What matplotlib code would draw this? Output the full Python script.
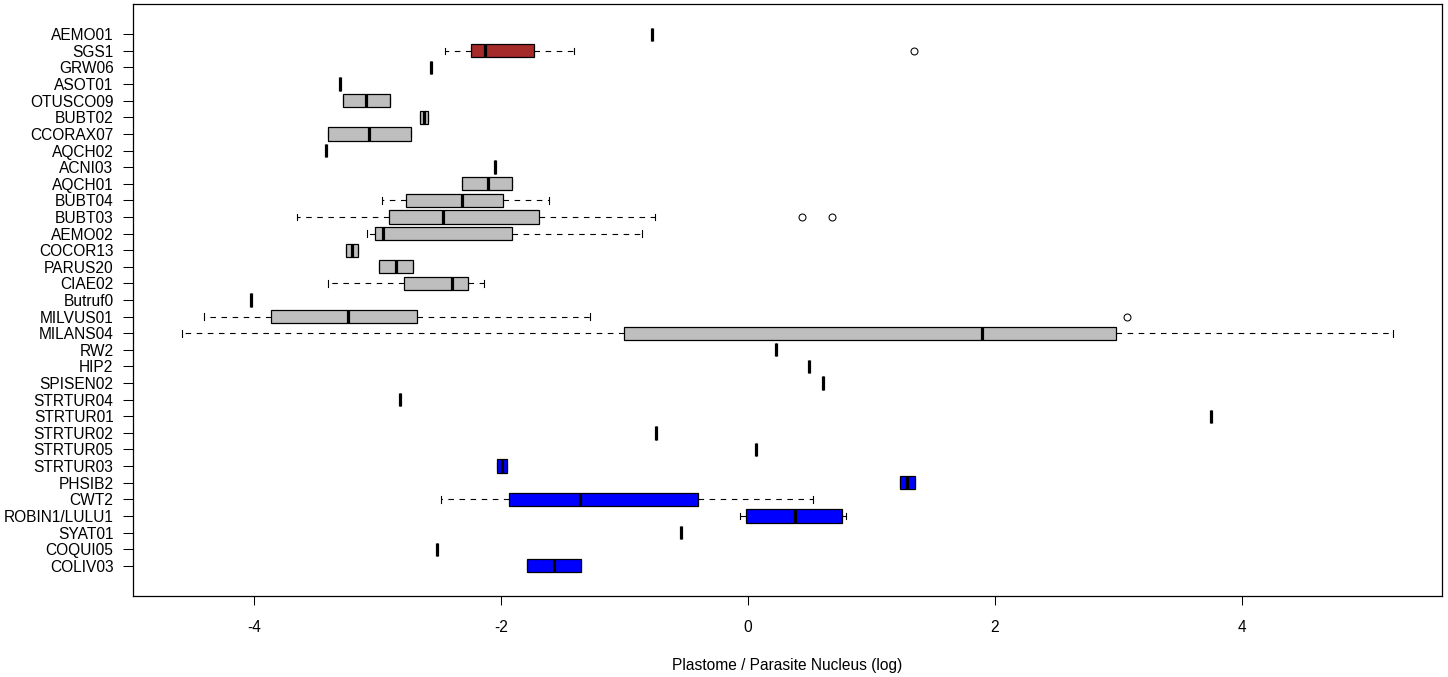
import numpy as np
import matplotlib
matplotlib.use("Agg")
import matplotlib.pyplot as plt

# samples, bottom to top (position 1 = bottom)
names = ['COLIV03', 'COQUI05', 'SYAT01', 'ROBIN1/LULU1', 'CWT2', 'PHSIB2', 'STRTUR03',
         'STRTUR05', 'STRTUR02', 'STRTUR01', 'STRTUR04', 'SPISEN02', 'HIP2', 'RW2',
         'MILANS04', 'MILVUS01', 'Butruf0', 'CIAE02', 'PARUS20', 'COCOR13', 'AEMO02',
         'BUBT03', 'BUBT04', 'AQCH01', 'ACNI03', 'AQCH02', 'CCORAX07', 'BUBT02',
         'OTUSCO09', 'ASOT01', 'GRW06', 'SGS1', 'AEMO01']

# summary stats
whislo = [-1.787, -2.516, -0.540, -0.068, -2.483, 1.232, -2.030,
          0.068, -0.742, 3.752, -2.815, 0.610, 0.497, 0.229,
          -4.586, -4.408, -4.022, -3.403, -2.985, -3.252, -3.086,
          -3.648, -2.966, -2.319, -2.052, -3.421, -3.403, -2.652,
          -3.277, -3.302, -2.568, -2.456, -0.775]
q1 = [-1.787, -2.516, -0.540, -0.014, -1.933, 1.232, -2.030,
      0.068, -0.742, 3.752, -2.815, 0.610, 0.497, 0.229,
      -1.007, -3.859, -4.022, -2.782, -2.985, -3.252, -3.024,
      -2.904, -2.767, -2.319, -2.052, -3.421, -3.403, -2.652,
      -3.277, -3.302, -2.568, -2.239, -0.775]
med = [-1.571, -2.516, -0.540, 0.383, -1.358, 1.291, -1.989,
       0.068, -0.742, 3.752, -2.815, 0.610, 0.497, 0.229,
       1.894, -3.237, -4.022, -2.398, -2.850, -3.205, -2.955,
       -2.471, -2.319, -2.109, -2.052, -3.421, -3.067, -2.623,
       -3.092, -3.302, -2.568, -2.127, -0.775]
q3 = [-1.355, -2.516, -0.540, 0.764, -0.408, 1.352, -1.949,
      0.068, -0.742, 3.752, -2.815, 0.610, 0.497, 0.229,
      2.977, -2.684, -4.022, -2.265, -2.716, -3.154, -1.907,
      -1.690, -1.980, -1.907, -2.052, -3.421, -2.731, -2.593,
      -2.901, -3.302, -2.568, -1.730, -0.775]
whishi = [-1.355, -2.516, -0.540, 0.796, 0.529, 1.352, -1.949,
          0.068, -0.742, 3.752, -2.815, 0.610, 0.497, 0.229,
          5.225, -1.278, -4.022, -2.134, -2.716, -3.154, -0.862,
          -0.751, -1.615, -1.907, -2.052, -3.421, -2.731, -2.593,
          -2.901, -3.302, -2.568, -1.412, -0.775]
fliers = {'MILVUS01': [3.066], 'BUBT03': [0.438, 0.677], 'SGS1': [1.344]}

gray, brown, blue = '#BEBEBE', '#A52A2A', '#0000FF'
box_colors = [blue, blue, blue, blue, blue, blue, blue] + [gray] * 24 + [brown, gray]

plt.rcParams['font.family'] = ['Liberation Sans', 'DejaVu Sans']

stats = []
for i, n in enumerate(names):
    stats.append(dict(label=n, whislo=whislo[i], q1=q1[i], med=med[i], q3=q3[i],
                      whishi=whishi[i], fliers=fliers.get(n, [])))

fig = plt.figure(figsize=(14.48, 6.77), dpi=100)
ax = fig.add_axes([133 / 1448, 81 / 677, (1442 - 133) / 1448, 592 / 677])

pos = np.arange(1, len(names) + 1)
bp = ax.bxp(stats, positions=pos, widths=0.8, orientation='horizontal',
            patch_artist=True, manage_ticks=False,
            boxprops=dict(edgecolor='black', linewidth=0.9),
            medianprops=dict(color='black', linewidth=2.3, solid_capstyle='butt'),
            whiskerprops=dict(color='black', linewidth=0.8, linestyle=(0, (5, 5))),
            capprops=dict(color='black', linewidth=0.8),
            flierprops=dict(marker='o', markerfacecolor='none', markeredgecolor='black',
                            markersize=5, markeredgewidth=0.75))
for patch, c in zip(bp['boxes'], box_colors):
    patch.set_facecolor(c)

n = len(names)
ax.set_ylim(0.5 - 0.04 * n, n + 0.5 + 0.04 * n)
ax.set_xlim(-4.98, 5.62)
ax.set_yticks(pos)
ax.set_yticklabels(names, fontsize=11.2)
ax.set_xticks([-4, -2, 0, 2, 4])
ax.set_xticklabels(['-4', '-2', '0', '2', '4'], fontsize=11.2)
ax.tick_params(axis='y', length=7, width=0.75, pad=7)
ax.tick_params(axis='x', length=6.5, width=0.75, pad=11)
for s in ax.spines.values():
    s.set_linewidth(0.9)

ax.set_xlabel('Plastome / Parasite Nucleus (log)', fontsize=11.2)
ax.xaxis.set_label_coords(0.5, -0.104)

fig.savefig('out.png', dpi=100)
